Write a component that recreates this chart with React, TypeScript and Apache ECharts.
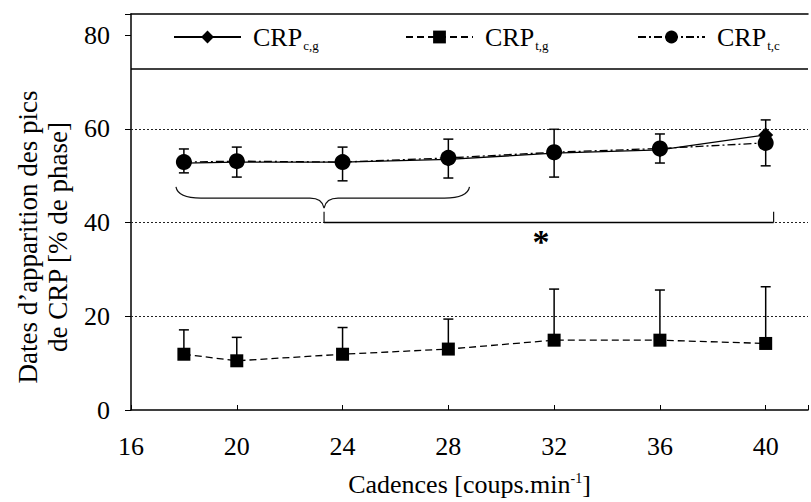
import React, { useEffect, useRef } from "react";
import * as echarts from "echarts";

const cadences = [18, 20, 24, 28, 32, 36, 40];
const crpCG = [52.7, 52.9, 52.9, 53.5, 54.8, 55.5, 58.7];
const crpTC = [52.9, 53.1, 52.9, 53.8, 55.0, 55.8, 57.0];
const crpTCLow = [50.6, 49.7, 48.9, 49.5, 49.7, 52.7, 52.1];
const crpTCHigh = [55.7, 56.1, 56.1, 57.8, 59.9, 58.9, 61.9];
const crpTG = [11.9, 10.5, 11.9, 13.0, 14.9, 14.9, 14.2];
const crpTGHigh = [17.1, 15.5, 17.6, 19.4, 25.8, 25.6, 26.3];
const gridValues = [20, 40, 60];
const legendLineValue = 72.75;
const braceX = [17.7, 23.3, 28.8];
const braceY = [47.6, 45.2, 43.1];
const sigLineX = [23.3, 40.3];
const sigLineY = [40, 42.3];
const starPos = [31.5, 36.0];

const FONT = "Liberation Serif";

export default function App() {
  const ref = useRef<HTMLDivElement>(null);
  useEffect(() => {
    if (!ref.current) return;
    const chart = echarts.init(ref.current, undefined, { renderer: "svg" });
    const black = "#000";
    const legendNames: Record<string, string> = {
      cg: "{m|CRP}{s|c,g}",
      tg: "{m|CRP}{s|t,g}",
      tc: "{m|CRP}{s|t,c}",
    };
    const legendCommon = (name: string, left: number) => ({
      data: [name],
      left,
      top: 24,
      padding: 0,
      itemWidth: 67,
      itemHeight: 16,
      formatter: (n: string) => legendNames[n],
      textStyle: {
        color: black,
        fontFamily: FONT,
        padding: [0, 0, 0, 7],
        rich: {
          m: { fontSize: 26, fontFamily: FONT, color: black },
          s: { fontSize: 13, fontFamily: FONT, color: black, padding: [17, 0, 0, 1] },
        },
      },
    });
    const option: any = {
      animation: false,
      backgroundColor: "#fff",
      grid: { left: 131, right: 0, top: 14, bottom: 92 },
      legend: [legendCommon("cg", 173), legendCommon("tg", 405), legendCommon("tc", 637)],
      xAxis: [
        {
          type: "value",
          min: 16,
          max: 41.6,
          interval: 4,
          axisLine: { show: true, lineStyle: { color: black, width: 1.5 } },
          axisTick: { show: true, inside: true, length: 5, lineStyle: { color: black } },
          splitLine: { show: false },
          axisLabel: {
            color: black,
            fontFamily: FONT,
            fontSize: 26,
            margin: 23,
            formatter: (v: number) => (v % 4 === 0 ? String(v) : ""),
          },
          name: "{a|Cadences [coups.min}{b|-1}{a|]}",
          nameLocation: "middle",
          nameGap: 61,
          nameTextStyle: {
            rich: {
              a: { fontSize: 26, fontFamily: FONT, color: black },
              b: { fontSize: 14, fontFamily: FONT, color: black, padding: [0, 0, 12, 0] },
            },
          },
        },
        {
          type: "value",
          position: "top",
          min: 16,
          max: 41.6,
          axisLine: { show: true, lineStyle: { color: black, width: 1.5 } },
          axisTick: { show: false },
          axisLabel: { show: false },
          splitLine: { show: false },
        },
      ],
      yAxis: {
        type: "value",
        min: 0,
        max: 84.5,
        interval: 20,
        axisLine: { show: true, lineStyle: { color: black, width: 1.5 } },
        axisTick: { show: true, length: 6, lineStyle: { color: black } },
        splitLine: { show: false },
        axisLabel: {
          color: black,
          fontFamily: FONT,
          fontSize: 26,
          margin: 21,
          formatter: (v: number) => (v % 20 === 0 ? String(v) : ""),
        },
        name: "Dates d\u2019apparition des pics\nde CRP [% de phase]",
        nameLocation: "middle",
        nameRotate: 90,
        nameGap: 53,
        nameTextStyle: {
          fontFamily: FONT,
          fontSize: 27,
          lineHeight: 30,
          color: black,
          padding: [0, 50, 0, 0],
        },
      },
      series: [
        {
          name: "tg",
          type: "line",
          data: cadences.map((c, i) => [c, crpTG[i]]),
          symbol: "rect",
          symbolSize: 13,
          itemStyle: { color: black },
          lineStyle: { color: black, width: 1.3, type: [7, 4] },
          z: 5,
          markLine: {
            silent: true,
            symbol: "none",
            label: { show: false },
            lineStyle: { color: "#222", width: 1, type: [2, 2] },
            data: [
              ...gridValues.map((v) => ({ yAxis: v })),
              { yAxis: legendLineValue, lineStyle: { type: "solid", width: 1.5, color: black } },
            ],
          },
        },
        {
          name: "tc",
          type: "line",
          data: cadences.map((c, i) => [c, crpTC[i]]),
          symbol: "circle",
          symbolSize: 16,
          itemStyle: { color: black },
          lineStyle: { color: black, width: 1.3, type: [8, 3, 2, 3] },
          z: 5,
        },
        {
          name: "cg",
          type: "line",
          data: cadences.map((c, i) => [c, crpCG[i]]),
          symbol: "diamond",
          symbolSize: 15,
          itemStyle: { color: black },
          lineStyle: { color: black, width: 1.3 },
          z: 4,
        },
        {
          name: "tcErr",
          type: "custom",
          z: 3,
          data: cadences.map((c, i) => [c, crpTCLow[i], crpTCHigh[i]]),
          encode: { x: 0, y: [1, 2] },
          renderItem: (params: any, api: any) => {
            const x = api.value(0);
            const lo = api.coord([x, api.value(1)]);
            const hi = api.coord([x, api.value(2)]);
            const w = 5;
            const st = { stroke: black, lineWidth: 1.5 };
            return {
              type: "group",
              children: [
                { type: "line", shape: { x1: lo[0], y1: lo[1], x2: hi[0], y2: hi[1] }, style: st },
                { type: "line", shape: { x1: hi[0] - w, y1: hi[1], x2: hi[0] + w, y2: hi[1] }, style: st },
                { type: "line", shape: { x1: lo[0] - w, y1: lo[1], x2: lo[0] + w, y2: lo[1] }, style: st },
              ],
            };
          },
        },
        {
          name: "tgErr",
          type: "custom",
          z: 3,
          data: cadences.map((c, i) => [c, crpTG[i], crpTGHigh[i]]),
          encode: { x: 0, y: [1, 2] },
          renderItem: (params: any, api: any) => {
            const x = api.value(0);
            const lo = api.coord([x, api.value(1)]);
            const hi = api.coord([x, api.value(2)]);
            const w = 5;
            const st = { stroke: black, lineWidth: 1.5 };
            return {
              type: "group",
              children: [
                { type: "line", shape: { x1: lo[0], y1: lo[1], x2: hi[0], y2: hi[1] }, style: st },
                { type: "line", shape: { x1: hi[0] - w, y1: hi[1], x2: hi[0] + w, y2: hi[1] }, style: st },
              ],
            };
          },
        },
        {
          name: "annot",
          type: "custom",
          z: 6,
          data: [[braceX[1], braceY[1]]],
          encode: { x: 0, y: 1 },
          renderItem: (params: any, api: any) => {
            const L = api.coord([braceX[0], braceY[0]]);
            const M = api.coord([braceX[1], braceY[2]]);
            const R = api.coord([braceX[2], braceY[0]]);
            const yb = api.coord([braceX[1], braceY[1]])[1];
            const d =
              `M${L[0]},${L[1]} Q${L[0] + 2},${yb} ${L[0] + 25},${yb} ` +
              `L${M[0] - 14},${yb} Q${M[0] - 2},${yb} ${M[0]},${M[1]} ` +
              `Q${M[0] + 2},${yb} ${M[0] + 14},${yb} L${R[0] - 25},${yb} ` +
              `Q${R[0] - 2},${yb} ${R[0]},${R[1]}`;
            const a = api.coord([sigLineX[0], sigLineY[0]]);
            const b = api.coord([sigLineX[1], sigLineY[0]]);
            const aTop = api.coord([sigLineX[0], sigLineY[1]]);
            const bTop = api.coord([sigLineX[1], sigLineY[1]]);
            const star = api.coord(starPos);
            const st = { stroke: "#111", lineWidth: 1.2, fill: "none" };
            return {
              type: "group",
              children: [
                { type: "path", shape: { pathData: d }, style: st },
                { type: "line", shape: { x1: a[0], y1: a[1], x2: b[0], y2: b[1] }, style: { stroke: black, lineWidth: 1.5 } },
                { type: "line", shape: { x1: a[0], y1: a[1], x2: aTop[0], y2: aTop[1] }, style: st },
                { type: "line", shape: { x1: b[0], y1: b[1], x2: bTop[0], y2: bTop[1] }, style: st },
                {
                  type: "text",
                  x: star[0],
                  y: star[1],
                  style: { text: "*", fontSize: 34, fontFamily: FONT, fontWeight: "bold", fill: black, align: "center", verticalAlign: "middle" },
                },
              ],
            };
          },
        },
      ],
    };
    chart.setOption(option);
    return () => chart.dispose();
  }, []);
  return (
    <div
      ref={ref}
      style={{ position: "fixed", left: 0, top: 0, width: 811, height: 502, background: "#fff" }}
    />
  );
}
